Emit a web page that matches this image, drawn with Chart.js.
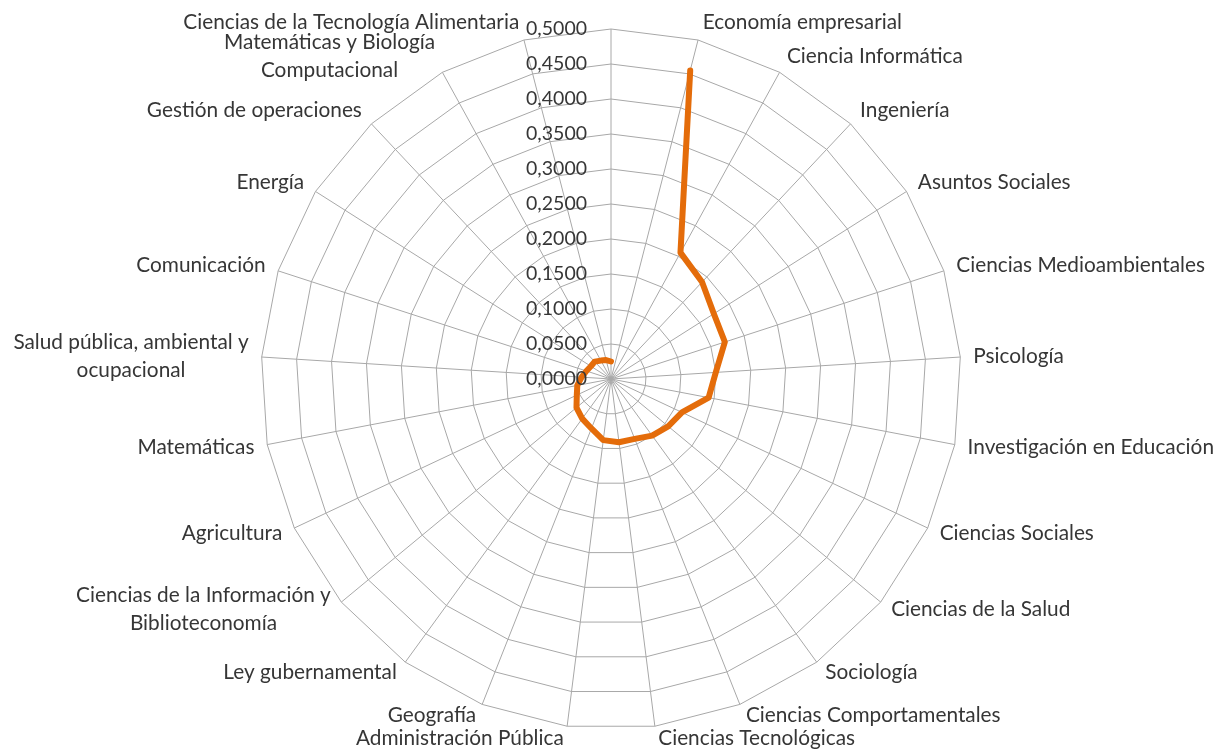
<!DOCTYPE html>
<html lang="es">
<head>
  <meta charset="UTF-8" />
  <title>Áreas de investigación</title>
  <script src="https://cdn.jsdelivr.net/npm/chart.js"></script>
  <style>
    html, body { margin: 0; padding: 0; background: #fff; }
    canvas { display: block; }
  </style>
</head>
<body>
  <canvas id="radarChart" width="1216" height="749"></canvas>

  <script>
// === Categorías (en sentido horario; la última es el radio superior, sin nombre) ===
const areas = [
  "Economía empresarial",
  "Ciencia Informática",
  "Ingeniería",
  "Asuntos Sociales",
  "Ciencias Medioambientales",
  "Psicología",
  "Investigación en Educación",
  "Ciencias Sociales",
  "Ciencias de la Salud",
  "Sociología",
  "Ciencias Comportamentales",
  "Ciencias Tecnológicas",
  "Administración Pública",
  "Geografía",
  "Ley gubernamental",
  ["Ciencias de la Información y", "Biblioteconomía"],
  "Agricultura",
  "Matemáticas",
  ["Salud pública, ambiental y", "ocupacional"],
  "Comunicación",
  "Energía",
  "Gestión de operaciones",
  ["Matemáticas y Biología", "Computacional"],
  "Ciencias de la Tecnología Alimentaria",
  ""
];

// === Valores por área (el null final deja la línea abierta) ===
const valores = [
  0.455, 0.206, 0.190, 0.174, 0.171, 0.150, 0.142, 0.112, 0.106, 0.100,
  0.092, 0.091, 0.088, 0.076, 0.070, 0.064, 0.054, 0.049, 0.042, 0.037,
  0.034, 0.034, 0.030, 0.028, 0.025,
  null
];

// === Etiquetas del eje radial ===
const etiquetasEje = [
  "0,0000", "0,0500", "0,1000", "0,1500", "0,2000", "0,2500",
  "0,3000", "0,3500", "0,4000", "0,4500", "0,5000"
];

const FUENTE = "Lato";
const COLOR_TEXTO = "#363636";

// === Textos del eje y de las categorías ===
const textos = {
  id: "textos",
  afterDraw(chart) {
    const r = chart.scales.r;
    const ctx = chart.ctx;
    ctx.save();
    ctx.fillStyle = COLOR_TEXTO;
    ctx.textBaseline = "middle";

    // valores del eje, a la izquierda del radio superior
    ctx.font = "19.5px " + FUENTE;
    ctx.textAlign = "right";
    r.ticks.forEach((t, i) => {
      const y = r.yCenter - r.getDistanceFromCenterForValue(t.value);
      ctx.fillText(etiquetasEje[i], r.xCenter - 24, y);
    });

    // nombres de las áreas alrededor del polígono
    ctx.font = "20.8px " + FUENTE;
    ctx.textAlign = "center";
    chart.data.labels.forEach((lab, i) => {
      const lineas = Array.isArray(lab) ? lab : [lab];
      if (!lineas[0]) return;
      const a = r.getIndexAngle(i);
      const s = Math.sin(a), c = Math.cos(a);
      const p = r.getPointPosition(i, r.drawingArea);
      const ancho = Math.max(...lineas.map(l => ctx.measureText(l).width));
      const sep = 2 + 11 * Math.abs(s);
      let izq;
      if (s > 0.01) izq = p.x + sep;
      else if (s < -0.01) izq = p.x - sep - ancho;
      else izq = p.x - ancho / 2;
      const cy = p.y - c * (c > 0 ? 18 : 12);
      const alto = 28;
      lineas.forEach((l, k) => {
        ctx.fillText(l, izq + ancho / 2, cy + (k - (lineas.length - 1) / 2) * alto);
      });
    });
    ctx.restore();
  }
};

const ctx = document.getElementById("radarChart").getContext("2d");
new Chart(ctx, {
  type: "radar",
  data: {
    labels: areas,
    datasets: [{
      label: "Proporción",
      data: valores,
      borderColor: "#e46c0a",
      borderWidth: 6,
      borderJoinStyle: "round",
      borderCapStyle: "round",
      fill: false,
      spanGaps: false,
      tension: 0,
      pointRadius: 0,
      pointHoverRadius: 0
    }]
  },
  options: {
    responsive: false,
    animation: false,
    devicePixelRatio: 1,
    layout: { padding: { left: 6, right: 0, top: 29, bottom: 20 } },
    plugins: {
      legend: { display: false },
      tooltip: { enabled: false }
    },
    scales: {
      r: {
        min: 0,
        max: 0.5,
        startAngle: 360 / 25,
        ticks: { display: false, stepSize: 0.05 },
        pointLabels: { display: false },
        grid: { color: "#a8a8a8", lineWidth: 1, circular: false },
        angleLines: { color: "#a8a8a8", lineWidth: 1 }
      }
    }
  },
  plugins: [textos]
});
  </script>
</body>
</html>
